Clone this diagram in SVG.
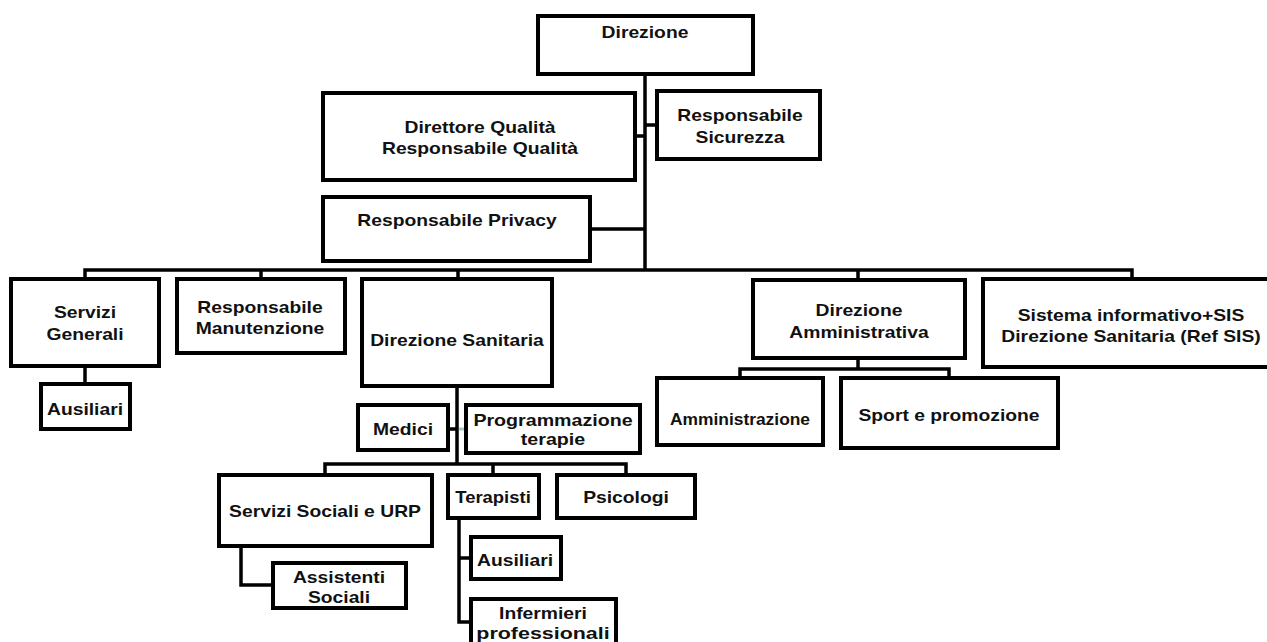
<svg xmlns="http://www.w3.org/2000/svg" width="1267" height="642" viewBox="0 0 1267 642">
<style>
.box{fill:#fff;stroke:#000;stroke-width:4}
.ln{fill:none;stroke:#000;stroke-width:3.5}
.tl{fill:none;stroke:#a9c6cb;stroke-width:3}
text{font-family:"Liberation Sans",Arial,sans-serif;font-weight:bold;font-size:16.5px;text-anchor:middle;fill:#111}
</style>
<rect width="1267" height="642" fill="#fff"/>
<g id="connectors">
<path class="ln" d="M645 74V270M635 136H645M645 125H657M590 229H645"/>
<path class="ln" d="M85 281V270H1132V281M261 270V281M458 270V281M858 270V281"/>
<path class="ln" d="M85 366V384"/>
<path class="ln" d="M457 386V464M448 429H457M325 475V464H626V475M493 464V475"/>
<path class="tl" d="M459 429H466"/>
<path class="ln" d="M241 546V585H273M459 518V622H471M459 558H471"/>
<path class="ln" d="M858 358V369M740 380V369H949V380"/>
</g>
<g id="n-direzione"><rect class="box" x="538" y="16" width="215" height="58"/><text transform="matrix(1.17 0 0 1 645 38)">Direzione</text></g>
<g id="n-qualita"><rect class="box" x="323" y="93" width="312" height="87"/><text transform="matrix(1.17 0 0 1 480 133)">Direttore Qualità</text><text transform="matrix(1.17 0 0 1 480 154)">Responsabile Qualità</text></g>
<g id="n-sicurezza"><rect class="box" x="657" y="91" width="163" height="68"/><text transform="matrix(1.17 0 0 1 740 121)">Responsabile</text><text transform="matrix(1.17 0 0 1 740 143)">Sicurezza</text></g>
<g id="n-privacy"><rect class="box" x="323" y="197" width="267" height="64"/><text transform="matrix(1.17 0 0 1 457 226)">Responsabile Privacy</text></g>
<g id="n-servizi-generali"><rect class="box" x="11" y="279" width="148" height="87"/><text transform="matrix(1.17 0 0 1 85 318)">Servizi</text><text transform="matrix(1.17 0 0 1 85 340)">Generali</text></g>
<g id="n-ausiliari-1"><rect class="box" x="41" y="384" width="89" height="45"/><text transform="matrix(1.17 0 0 1 85 415)">Ausiliari</text></g>
<g id="n-manutenzione"><rect class="box" x="177" y="279" width="168" height="74"/><text transform="matrix(1.17 0 0 1 260 313)">Responsabile</text><text transform="matrix(1.17 0 0 1 260 334)">Manutenzione</text></g>
<g id="n-dir-sanitaria"><rect class="box" x="362" y="279" width="190" height="107"/><text transform="matrix(1.17 0 0 1 457 346)">Direzione Sanitaria</text></g>
<g id="n-medici"><rect class="box" x="358" y="405" width="90" height="45"/><text transform="matrix(1.17 0 0 1 403 435)">Medici</text></g>
<g id="n-programmazione"><rect class="box" x="466" y="405" width="174" height="48"/><text transform="matrix(1.19 0 0 1 553 426)">Programmazione</text><text transform="matrix(1.19 0 0 1 553 445)">terapie</text></g>
<g id="n-servizi-sociali"><rect class="box" x="219" y="475" width="213" height="71"/><text transform="matrix(1.17 0 0 1 325 517)">Servizi Sociali e URP</text></g>
<g id="n-assistenti"><rect class="box" x="273" y="563" width="133" height="45"/><text transform="matrix(1.17 0 0 1 339 583)">Assistenti</text><text transform="matrix(1.17 0 0 1 339 603)">Sociali</text></g>
<g id="n-terapisti"><rect class="box" x="448" y="475" width="91" height="43"/><text transform="matrix(1.12 0 0 1 493 503)">Terapisti</text></g>
<g id="n-psicologi"><rect class="box" x="557" y="475" width="138" height="43"/><text transform="matrix(1.17 0 0 1 626 503)">Psicologi</text></g>
<g id="n-ausiliari-2"><rect class="box" x="471" y="537" width="90" height="42"/><text transform="matrix(1.17 0 0 1 515 566)">Ausiliari</text></g>
<g id="n-infermieri"><rect class="box" x="471" y="599" width="145" height="60"/><text transform="matrix(1.17 0 0 1 543 619)">Infermieri</text><text transform="matrix(1.3 0 0 1 543 639)">professionali</text></g>
<g id="n-dir-amministrativa"><rect class="box" x="753" y="280" width="212" height="78"/><text transform="matrix(1.17 0 0 1 859 316)">Direzione</text><text transform="matrix(1.17 0 0 1 859 338)">Amministrativa</text></g>
<g id="n-amministrazione"><rect class="box" x="657" y="378" width="166" height="67"/><text transform="matrix(1.055 0 0 1 740 425)">Amministrazione</text></g>
<g id="n-sport"><rect class="box" x="841" y="378" width="217" height="70"/><text transform="matrix(1.17 0 0 1 949 421)">Sport e promozione</text></g>
<g id="n-sistema"><rect class="box" x="983" y="279" width="300" height="88"/><text transform="matrix(1.17 0 0 1 1131 321)">Sistema informativo+SIS</text><text transform="matrix(1.17 0 0 1 1131 342)">Direzione Sanitaria (Ref SIS)</text></g>
</svg>
